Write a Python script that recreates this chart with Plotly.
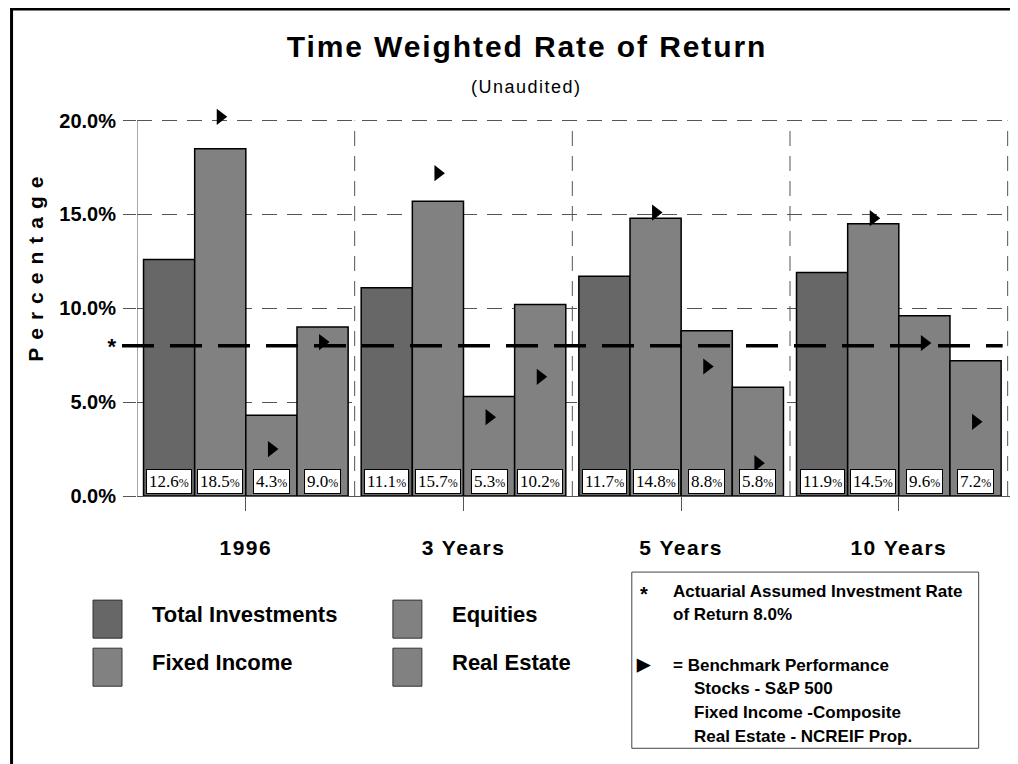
import plotly.graph_objects as go

# ---------------- data ----------------
categories = ["1996", "3 Years", "5 Years", "10 Years"]
series_names = ["Total Investments", "Equities", "Fixed Income", "Real Estate"]
total_investments = [12.6, 11.1, 11.7, 11.9]
equities = [18.5, 15.7, 14.8, 14.5]
fixed_income = [4.3, 5.3, 8.8, 9.6]
real_estate = [9.0, 10.2, 5.8, 7.2]
# benchmark performance (triangles)
bench_equities = [20.2, 17.2, 15.1, 14.8]       # S&P 500
bench_fixed_income = [2.5, 4.2, 6.9, 8.15]      # Fixed Income Composite
bench_real_estate = [8.2, 6.35, 1.75, 3.95]     # NCREIF Prop.
assumed_rate = 8.0
y_tick_values = [0, 5, 10, 15, 20]
y_tick_labels = ["0.0%", "5.0%", "10.0%", "15.0%", "20.0%"]

series_values = [total_investments, equities, fixed_income, real_estate]
series_colors = ["#676767", "#818181", "#818181", "#818181"]
bench_series = {1: bench_equities, 2: bench_fixed_income, 3: bench_real_estate}

# ---------------- geometry helpers (layout only) ----------------
OFF = 8                      # default page body margin
W, H = 1010, 756             # figure size (fits the window with the body margin)
Y_TOP = 20                   # top gridline
Y_MAX = 20.35
X_MAX = 3.52
PX_PER_PCT = 18.75
PX_PER_CAT = 217.75
L = 129
B = 268
T = H - B - Y_MAX * PX_PER_PCT
R = W - L - (X_MAX + 0.5) * PX_PER_CAT
PW, PH = W - L - R, H - T - B
BARGAP = 0.06
NS = len(series_names)
BW = (1 - BARGAP) / NS
GRID = dict(color="#555555", width=1, dash="15px,10px")


def px_x(px):
    """page pixel x -> paper coordinate"""
    return (px - OFF - L) / PW


def px_y(py):
    """page pixel y -> paper coordinate"""
    return (H - B - (py - OFF)) / PH


def bar_center(i, k):
    return i + (k - (NS - 1) / 2) * BW


xs = list(range(len(categories)))
FONT = "Liberation Sans, Arial, sans-serif"

fig = go.Figure()

for k, (name, vals, col) in enumerate(zip(series_names, series_values, series_colors)):
    fig.add_trace(go.Bar(
        x=xs, y=vals, name=name, marker_color=col,
        marker_line_color="black", marker_line_width=1.5,
        showlegend=False,
    ))

for k, bvals in bench_series.items():
    fig.add_trace(go.Scatter(
        x=[bar_center(i, k) for i in xs], y=bvals, mode="markers",
        marker=dict(symbol="triangle-right", size=14, color="black"),
        showlegend=False, hoverinfo="y", cliponaxis=False,
    ))

# invisible trace for the secondary axis carrying the "*" tick
fig.add_trace(go.Scatter(x=[None], y=[None], yaxis="y2", showlegend=False))

annotations = []
# value boxes at bottom of bars
for k, vals in enumerate(series_values):
    for i, v in enumerate(vals):
        annotations.append(dict(
            x=bar_center(i, k), y=0, xref="x", yref="y",
            text=f"{v:.1f}<span style='font-size:12px'>%</span>",
            showarrow=False, xanchor="center", yanchor="bottom", yshift=2,
            font=dict(family="Liberation Serif, Times New Roman, serif", size=17, color="black"),
            bgcolor="white", bordercolor="black", borderwidth=1, borderpad=2,
        ))

# y axis title
annotations.append(dict(
    x=px_x(36), y=px_y(266), xref="paper", yref="paper",
    text="<span style='letter-spacing:8px'>Percentage</span>", textangle=-90,
    xanchor="center", yanchor="middle",
    showarrow=False, font=dict(family=FONT, size=21, color="black", weight="bold"),
))
# subtitle
annotations.append(dict(
    x=px_x(527), y=px_y(87), xref="paper", yref="paper",
    text="<span style='letter-spacing:1.5px'>(Unaudited)</span>",
    xanchor="center", yanchor="middle",
    showarrow=False, font=dict(family=FONT, size=18, color="black"),
))

shapes = []
# vertical category separators (dashed grid) and y axis line, stopping at the top gridline
for i in xs:
    shapes.append(dict(type="line", xref="x", yref="y", x0=i + 0.5, x1=i + 0.5,
                       y0=0, y1=Y_TOP, line=GRID, layer="below"))
shapes.append(dict(type="line", xref="x", yref="y", x0=-0.5, x1=-0.5, y0=0, y1=Y_TOP,
                   line=dict(color="#555555", width=1)))

# custom legend
leg_pos = [(93, 600), (393, 600), (93, 648), (393, 648)]
for (lx, ly), name, col in zip(leg_pos, series_names, series_colors):
    shapes.append(dict(type="rect", xref="paper", yref="paper",
                       x0=px_x(lx), x1=px_x(lx + 29), y0=px_y(ly), y1=px_y(ly + 38),
                       fillcolor=col, line=dict(color="#333333", width=1)))
    annotations.append(dict(
        x=px_x(lx + 57), y=px_y(ly + 14), xref="paper", yref="paper",
        text=name, xanchor="left", yanchor="middle", showarrow=False,
        font=dict(family=FONT, size=22, color="black", weight="bold"),
    ))

# note box
shapes.append(dict(type="rect", xref="paper", yref="paper",
                   x0=px_x(632), x1=px_x(979), y0=px_y(572), y1=px_y(748),
                   line=dict(color="#444444", width=1), fillcolor="white"))
note_lines = [
    (644, 594, "*", "center", 20),
    (671, 591, "Actuarial Assumed Investment Rate", "left", 17),
    (671, 614, f"of Return {assumed_rate:.1f}%", "left", 17),
    (644, 664, "\u25B6", "center", 17),
    (671, 665, "= Benchmark Performance", "left", 17),
    (692, 688, "Stocks - S&P 500", "left", 17),
    (692, 712, "Fixed Income -Composite", "left", 17),
    (692, 736, "Real Estate - NCREIF Prop.", "left", 17),
]
for nx, ny, txt, anc, fs in note_lines:
    annotations.append(dict(
        x=px_x(nx), y=px_y(ny), xref="paper", yref="paper", text=txt,
        xanchor=anc, yanchor="middle", showarrow=False,
        font=dict(family=FONT, size=fs, color="black", weight="bold"),
    ))

# assumed rate dashed line
shapes.append(dict(type="line", xref="paper", yref="y",
                   x0=px_x(122), x1=px_x(1003), y0=assumed_rate, y1=assumed_rate,
                   line=dict(color="black", width=3.5, dash="32px,16px")))

# page frame
shapes.append(dict(type="line", xref="paper", yref="paper",
                   x0=px_x(11.5), x1=px_x(11.5), y0=px_y(8), y1=px_y(764),
                   line=dict(color="black", width=3)))
shapes.append(dict(type="line", xref="paper", yref="paper",
                   x0=px_x(10), x1=px_x(1018), y0=px_y(9.5), y1=px_y(9.5),
                   line=dict(color="black", width=3)))

fig.update_layout(
    width=W, height=H,
    margin=dict(l=L, r=R, t=T, b=B),
    paper_bgcolor="white", plot_bgcolor="white",
    barmode="group", bargap=BARGAP, bargroupgap=0,
    title=dict(
        text="<span style='letter-spacing:1.9px'>Time Weighted Rate of Return</span>",
        x=(527 - OFF) / W, xanchor="center", y=1 - (46 - OFF) / H, yanchor="middle",
        font=dict(family=FONT, size=30, color="black", weight="bold"),
    ),
    xaxis=dict(
        range=[-0.5, X_MAX], tickmode="array", tickvals=xs,
        ticktext=[f"<span style='letter-spacing:1.5px'>{c}</span>" for c in categories],
        ticks="outside", ticklen=14, tickcolor="#555555", tickwidth=1,
        showline=True, linecolor="#555555", linewidth=1,
        showgrid=False, zeroline=False,
        ticklabelstandoff=19,
        tickfont=dict(family=FONT, size=21, color="black", weight="bold"),
    ),
    yaxis=dict(
        range=[0, Y_MAX], tickmode="array", tickvals=y_tick_values, ticktext=y_tick_labels,
        ticks="outside", ticklen=13, tickcolor="#555555", tickwidth=1,
        showline=False,
        showgrid=True, gridcolor="#555555", gridwidth=1, griddash="15px,10px",
        zeroline=False, ticklabelstandoff=3,
        tickfont=dict(family=FONT, size=20, color="black", weight="bold"),
    ),
    yaxis2=dict(
        overlaying="y", side="left", range=[0, Y_MAX], tickmode="array",
        tickvals=[assumed_rate], ticktext=["*"], ticks="", showgrid=False,
        showline=False, zeroline=False, ticklabelstandoff=20,
        tickfont=dict(family=FONT, size=22, color="black", weight="bold"),
    ),
    annotations=annotations,
    shapes=shapes,
)

fig.write_html("out.html")
